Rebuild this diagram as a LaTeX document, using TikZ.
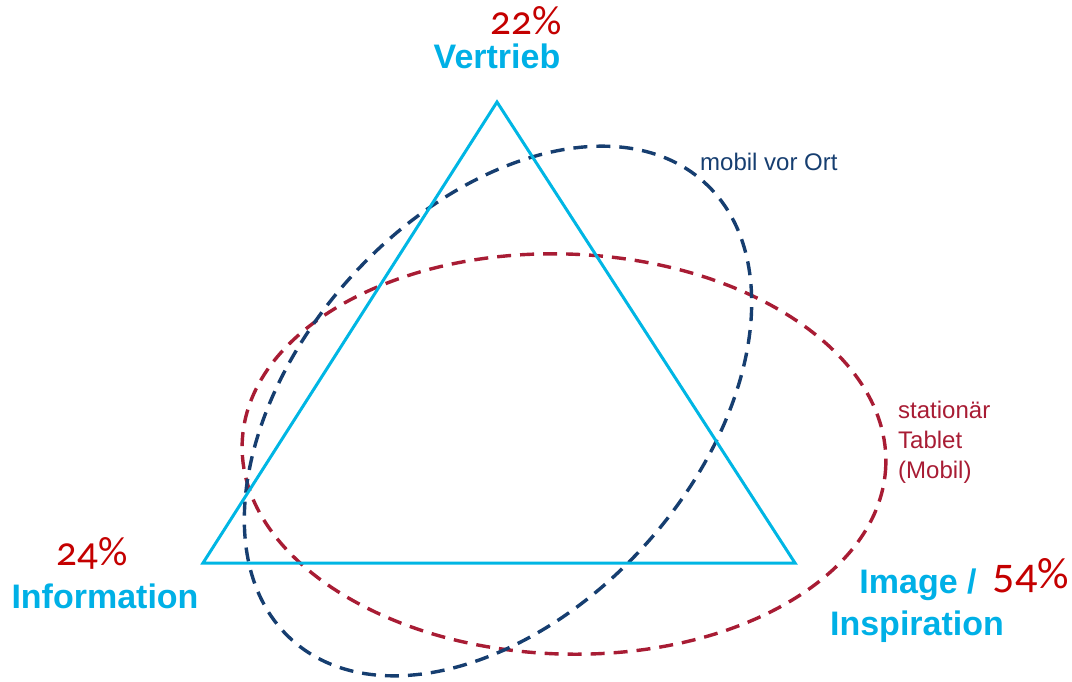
\documentclass[tikz,border=0pt]{standalone}
\usepackage{fontspec}
\setmainfont{Liberation Sans}
\newfontfamily\pctfont[Numbers=OldStyle]{Carlito}
\definecolor{tricyan}{RGB}{0,182,228}
\definecolor{labcyan}{RGB}{0,176,230}
\definecolor{darkblue}{RGB}{22,62,112}
\definecolor{darkred}{RGB}{168,28,52}
\definecolor{pctred}{RGB}{196,0,0}
\tikzset{
  triline/.style={draw=tricyan, line width=3pt, line join=miter},
  dashell/.style={line width=3.4pt, dash pattern=on 14pt off 9pt},
  cornerlabel/.style={inner sep=0pt, text=labcyan, font=\fontsize{34}{40}\selectfont\bfseries},
  pctlabel/.style={inner sep=0pt, text=pctred, font=\fontsize{41}{46}\selectfont\pctfont},
  ellabel/.style={inner sep=0pt, font=\fontsize{24}{28}\selectfont, anchor=base west}
}
\begin{document}
\begin{tikzpicture}[x=1pt,y=-1pt]
\useasboundingbox (0,0) rectangle (1072,681);
% red ellipse (stationaer)
\draw[dashell, draw=darkred, shift={(564,454)}, rotate=-2] (0,0) ellipse [x radius=322, y radius=200];
% blue ellipse (mobil vor Ort)
\draw[dashell, draw=darkblue, shift={(498,411)}, rotate=48] (0,0) ellipse [x radius=308, y radius=199];
% triangle
\coordinate (V) at (497,102);
\coordinate (I) at (203,563);
\coordinate (B) at (795,563);
\draw[triline] (V) -- (I) -- (B) -- cycle;
% corner labels
\node[cornerlabel, anchor=base] (vertrieb) at (497,68) {Vertrieb};
\node[cornerlabel, anchor=base] (information) at (105,608) {Information};
\node[cornerlabel, anchor=base] (image) at (918,593) {Image /};
\node[cornerlabel, anchor=base] (inspiration) at (917,635) {Inspiration};
% percentages
\node[pctlabel, anchor=base] (p22) at (526,34) {22\%};
\node[pctlabel, anchor=base] (p24) at (92,565) {24\%};
\node[pctlabel, anchor=base, font=\fontsize{44}{48}\selectfont\pctfont] (p54) at (1031,588) {54\%};
% ellipse labels
\node[ellabel, text=darkblue] (mobil) at (700,170) {mobil vor Ort};
\node[ellabel, text=darkred] (stat1) at (898,418) {stationär};
\node[ellabel, text=darkred] (stat2) at (898,448) {Tablet};
\node[ellabel, text=darkred] (stat3) at (898,478) {(Mobil)};
\end{tikzpicture}
\end{document}
